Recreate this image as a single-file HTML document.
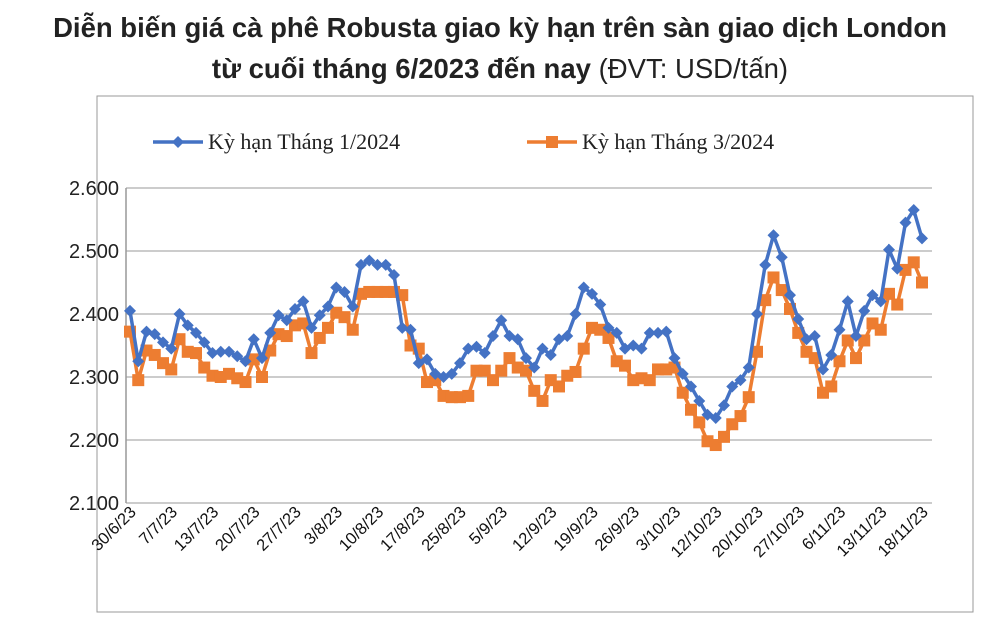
<!DOCTYPE html>
<html><head><meta charset="utf-8"><style>
body{margin:0;width:1000px;height:630px;background:#fff;font-family:"Liberation Sans",sans-serif;overflow:hidden}
.t{position:absolute;left:0;width:1000px;text-align:center;font-size:27.5px;color:#222;font-weight:bold;white-space:nowrap}
</style></head><body>
<div class="t" style="top:12px">Diễn biến giá cà phê Robusta giao kỳ hạn trên sàn giao dịch London</div>
<div class="t" style="top:53px">từ cuối tháng 6/2023 đến nay <span style="font-weight:normal">(ĐVT: USD/tấn)</span></div>
<svg id="c" width="1000" height="630" style="position:absolute;left:0;top:0"></svg>
<script>
const yTicks=[2100,2200,2300,2400,2500,2600];
const yTickLabels=["2.100","2.200","2.300","2.400","2.500","2.600"];
const xLabels=["30/6/23","7/7/23","13/7/23","20/7/23","27/7/23","3/8/23","10/8/23","17/8/23","25/8/23","5/9/23","12/9/23","19/9/23","26/9/23","3/10/23","12/10/23","20/10/23","27/10/23","6/11/23","13/11/23","18/11/23"];
const jan24=[2405,2325,2372,2368,2355,2345,2400,2382,2370,2355,2338,2340,2340,2333,2325,2360,2330,2370,2398,2390,2408,2420,2378,2398,2412,2442,2435,2412,2478,2485,2478,2478,2462,2378,2375,2322,2328,2305,2300,2305,2322,2345,2348,2338,2365,2390,2365,2360,2330,2315,2345,2335,2360,2365,2400,2442,2432,2415,2378,2370,2345,2350,2345,2370,2370,2372,2330,2305,2285,2262,2240,2235,2255,2285,2295,2315,2400,2478,2525,2490,2430,2392,2360,2365,2312,2335,2375,2420,2365,2405,2430,2420,2502,2472,2545,2565,2520];
const mar24=[2372,2295,2342,2335,2322,2312,2360,2340,2338,2315,2302,2300,2305,2298,2292,2328,2300,2342,2368,2365,2382,2385,2338,2362,2378,2402,2395,2375,2432,2435,2435,2435,2435,2430,2350,2345,2292,2295,2270,2268,2268,2270,2310,2310,2295,2310,2330,2315,2310,2278,2262,2295,2285,2302,2308,2345,2378,2375,2362,2325,2318,2295,2298,2295,2312,2312,2315,2275,2248,2228,2198,2192,2205,2225,2238,2268,2340,2422,2458,2438,2408,2370,2340,2330,2275,2285,2325,2358,2330,2358,2385,2375,2432,2415,2470,2482,2450];
const X0=130,X1=922,Y0=503,Y1=188;
const n=jan24.length;
const xs=i=>X0+(X1-X0)*i/(n-1);
const ys=v=>Y0-(v-2100)/500*(Y0-Y1);
const svg=document.getElementById('c');const NS='http://www.w3.org/2000/svg';
function mk(t,a,p){const e=document.createElementNS(NS,t);for(const k in a)e.setAttribute(k,a[k]);(p||svg).appendChild(e);return e;}
const fr=mk('rect',{x:97,y:96,width:876,height:516,fill:'none',stroke:'#999','stroke-width':1});


yTicks.forEach((v,i)=>{
 const g=mk('line',{x1:X0-4,x2:X1+10,y1:ys(v),y2:ys(v),stroke:'#bbb','stroke-width':1.5});
 
 
 const t=mk('text',{x:119,y:ys(v)+7,'text-anchor':'end','font-size':20,fill:'#222'});t.textContent=yTickLabels[i];
 
 
});
const ax=mk('line',{x1:126,x2:126,y1:Y1,y2:Y0,stroke:'#999','stroke-width':1.5});


xLabels.forEach((l,k)=>{
 const i=Math.round(k*(n-1)/(xLabels.length-1));const x=xs(i)+7,y=Y0+10;
 const t=mk('text',{x:x,y:y,'text-anchor':'end','font-size':16.5,fill:'#111',transform:`rotate(-45 ${x} ${y})`});t.textContent=l;
 
 
});
function series(d,col,shape,name){
 const p=mk('polyline',{points:d.map((v,i)=>xs(i)+','+ys(v)).join(' '),fill:'none',stroke:col,'stroke-width':3.5});
 
 
 d.forEach((v,i)=>{const x=xs(i),y=ys(v);let m;
  if(shape==='d')m=mk('polygon',{points:`${x},${y-6} ${x+6},${y} ${x},${y+6} ${x-6},${y}`,fill:col});
  else m=mk('rect',{x:x-6,y:y-6,width:12,height:12,fill:col});
  
  
 });
}
series(mar24,'#ED7D31','s','mar-2024');
series(jan24,'#4472C4','d','jan-2024');
function leg(x,col,shape,label,name){
 const g=mk('g',{});
 
 
 mk('line',{x1:x,x2:x+50,y1:142,y2:142,stroke:col,'stroke-width':3.5},g);
 if(shape==='d')mk('polygon',{points:`${x+25},136 ${x+31},142 ${x+25},148 ${x+19},142`,fill:col},g);
 else mk('rect',{x:x+19,y:136,width:12,height:12,fill:col},g);
 const t=mk('text',{x:x+55,y:149,'font-size':22,fill:'#222','font-family':'Liberation Serif, serif'},g);t.textContent=label;
}
leg(153,'#4472C4','d','Kỳ hạn Tháng 1/2024','legend-jan-2024');
leg(527,'#ED7D31','s','Kỳ hạn Tháng 3/2024','legend-mar-2024');
</script>
</body></html>
